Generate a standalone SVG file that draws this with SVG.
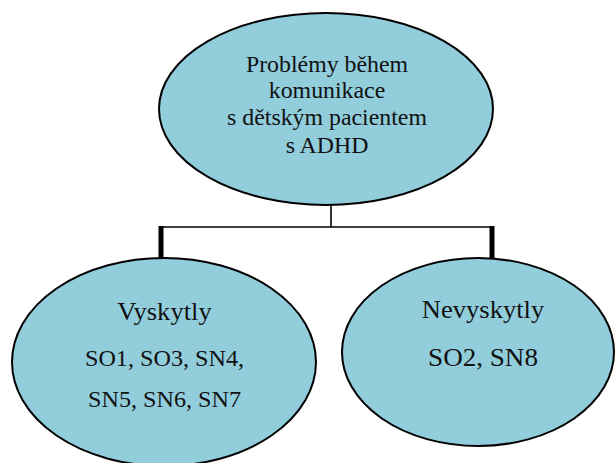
<svg xmlns="http://www.w3.org/2000/svg" width="616" height="463" viewBox="0 0 616 463">
  <style>
    .node { fill: #92CDDC; stroke: #000; stroke-width: 2; }
    .label { font-family: "Liberation Serif", "Times New Roman", serif; fill: #111; text-anchor: middle; }
    .top { font-size: 22.7px; }
    .head { font-size: 25.3px; }
    .codes { font-size: 23px; }
    .codes-lg { font-size: 25.8px; }
    .thin { stroke: #000; stroke-width: 1.6; fill: none; }
    .thick { stroke: #000; stroke-width: 5; fill: none; }
  </style>
  <rect width="616" height="463" fill="#fff"/>

  <g id="connectors">
    <line class="thin" x1="331" y1="205" x2="331" y2="227"/>
    <line class="thin" x1="159" y1="227" x2="494" y2="227"/>
    <line class="thick" x1="161" y1="226" x2="161" y2="259"/>
    <line class="thick" x1="492" y1="226" x2="492" y2="259"/>
  </g>

  <g id="root">
    <ellipse class="node" cx="326" cy="109" rx="167" ry="96"/>
    <!-- labels are set slightly wide: scaled 1.05 horizontally about the centre line -->
    <g transform="translate(327 0) scale(1.05 1)">
      <text class="label top" x="0" y="72">Problémy během</text>
      <text class="label top" x="0" y="98.5">komunikace</text>
      <text class="label top" x="0" y="125.5">s dětským pacientem</text>
      <text class="label top" x="0" y="153">s ADHD</text>
    </g>
  </g>

  <g id="vyskytly">
    <ellipse class="node" cx="164" cy="362" rx="152" ry="104"/>
    <g transform="translate(164.5 0) scale(1.05 1)">
      <text class="label head" x="0" y="320">Vyskytly</text>
      <text class="label codes" x="0" y="366">SO1, SO3, SN4,</text>
      <text class="label codes" x="0" y="407.5">SN5, SN6, SN7</text>
    </g>
  </g>

  <g id="nevyskytly">
    <ellipse class="node" cx="478" cy="352" rx="136" ry="94"/>
    <g transform="translate(483 0) scale(1.05 1)">
      <text class="label head" x="0" y="318">Nevyskytly</text>
      <text class="label codes-lg" x="0" y="366">SO2, SN8</text>
    </g>
  </g>
</svg>
